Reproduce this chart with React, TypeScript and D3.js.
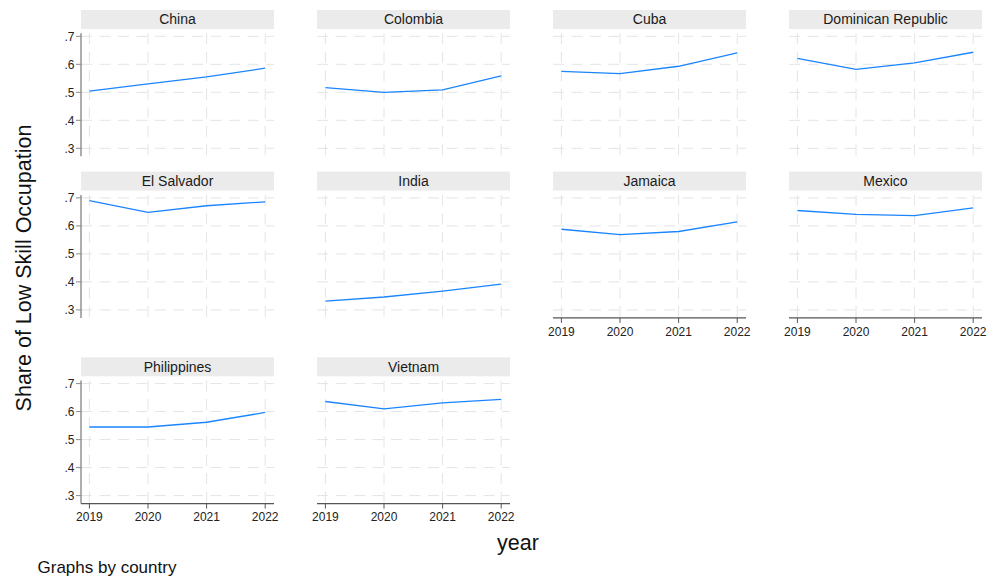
import React from "react";
import * as d3 from "d3";

// Share of workers in low-skill occupations by country of origin, 2019–2022
const years = [2019, 2020, 2021, 2022];
const yTicks = [0.3, 0.4, 0.5, 0.6, 0.7];
const yTickLabels = [".3", ".4", ".5", ".6", ".7"];

const china = [0.504, 0.530, 0.555, 0.586];
const colombia = [0.517, 0.500, 0.509, 0.559];
const cuba = [0.575, 0.567, 0.593, 0.641];
const dominicanRepublic = [0.621, 0.582, 0.605, 0.643];
const elSalvador = [0.690, 0.648, 0.672, 0.686];
const india = [0.331, 0.346, 0.367, 0.392];
const jamaica = [0.588, 0.569, 0.580, 0.614];
const mexico = [0.655, 0.641, 0.637, 0.664];
const philippines = [0.545, 0.545, 0.562, 0.597];
const vietnam = [0.636, 0.610, 0.631, 0.644];

const countries = [
  "China", "Colombia", "Cuba", "Dominican Republic",
  "El Salvador", "India", "Jamaica", "Mexico",
  "Philippines", "Vietnam",
];
const series = [
  china, colombia, cuba, dominicanRepublic,
  elSalvador, india, jamaica, mexico,
  philippines, vietnam,
];

const W = 988;
const H = 578;
const FONT = "'Liberation Sans', Arial, Helvetica, sans-serif";
const LINE = "#1a85ff";
const GRID = "#e4e4e4";
const HEADER = "#ebebeb";

const colX = [81, 317, 553, 789];
const panelW = 193;
const rowTop = [36.3, 197.9, 383.6]; // pixel row of the top gridline (.7)
const plotH = 112; // .7 -> .3
const nCols = 4;
const nPanels = countries.length;

function hasXAxis(i: number) {
  // bottom axis shown when no panel sits below
  return i + nCols >= nPanels;
}

function Panel({ i }: { i: number }) {
  const col = i % nCols;
  const row = Math.floor(i / nCols);
  const x0 = colX[col];
  const top = rowTop[row];
  const x = d3.scaleLinear().domain([2019, 2022]).range([x0 + 8.4, x0 + panelW - 8.8]);
  const y = d3.scaleLinear().domain([0.3, 0.7]).range([top + plotH, top]);
  const yBottom = top + plotH + 8;
  const yTopPlot = top - 3;
  const line = d3
    .line<number>()
    .x((_, k) => x(years[k]))
    .y((v) => y(v));
  const data = series[i];

  return (
    <g>
      {/* strip header */}
      <rect x={x0} y={top - 26.3} width={panelW} height={19} fill={HEADER} />
      <text
        x={x0 + panelW / 2}
        y={top - 12}
        textAnchor="middle"
        fontSize={14}
        fill="#1a1a1a"
      >
        {countries[i]}
      </text>

      {/* gridlines */}
      {yTicks.map((t) => (
        <line
          key={"h" + t}
          x1={x0}
          x2={x0 + panelW}
          y1={y(t)}
          y2={y(t)}
          stroke={GRID}
          strokeWidth={1}
          strokeDasharray="11,7.5"
        />
      ))}
      {years.map((yr) => (
        <line
          key={"v" + yr}
          x1={x(yr)}
          x2={x(yr)}
          y1={yTopPlot}
          y2={yBottom}
          stroke={GRID}
          strokeWidth={1}
          strokeDasharray="11,7.5"
        />
      ))}

      {/* left axis on the first column */}
      {col === 0 && (
        <g>
          <line x1={x0} x2={x0} y1={yTopPlot} y2={yBottom} stroke="#8a8a8a" strokeWidth={1.4} />
          {yTicks.map((t, k) => (
            <g key={"yt" + t}>
              <line x1={x0 - 5} x2={x0} y1={y(t)} y2={y(t)} stroke="#8a8a8a" strokeWidth={1} />
              <text
                x={x0 - 6.5}
                y={y(t) + 4.3}
                textAnchor="end"
                fontSize={12}
                fill="#222"
              >
                {yTickLabels[k]}
              </text>
            </g>
          ))}
        </g>
      )}

      {/* bottom axis on the last panel of each column */}
      {hasXAxis(i) && (
        <g>
          <line x1={x0} x2={x0 + panelW} y1={yBottom} y2={yBottom} stroke="#555" strokeWidth={1.2} />
          {years.map((yr) => (
            <g key={"xt" + yr}>
              <line x1={x(yr)} x2={x(yr)} y1={yBottom} y2={yBottom + 5} stroke="#555" strokeWidth={1} />
              <text
                x={x(yr)}
                y={yBottom + 17.8}
                textAnchor="middle"
                fontSize={12}
                fill="#222"
              >
                {yr}
              </text>
            </g>
          ))}
        </g>
      )}

      <path d={line(data) ?? ""} fill="none" stroke={LINE} strokeWidth={1.3} />
    </g>
  );
}

export default function App() {
  return (
    <svg
      width={W}
      height={H}
      style={{ position: "absolute", left: 0, top: 0, background: "#fff" }}
      fontFamily={FONT}
    >
      <rect x={0} y={0} width={W} height={H} fill="#fff" />
      {countries.map((_, i) => (
        <Panel key={i} i={i} />
      ))}
      <text
        transform="translate(30.5,268) rotate(-90)"
        textAnchor="middle"
        fontSize={21.5}
        fill="#111"
      >
        Share of Low Skill Occupation
      </text>
      <text x={518} y={549.5} textAnchor="middle" fontSize={21.5} fill="#111">
        year
      </text>
      <text x={37.5} y={572.5} fontSize={17} fill="#111">
        Graphs by country
      </text>
    </svg>
  );
}
